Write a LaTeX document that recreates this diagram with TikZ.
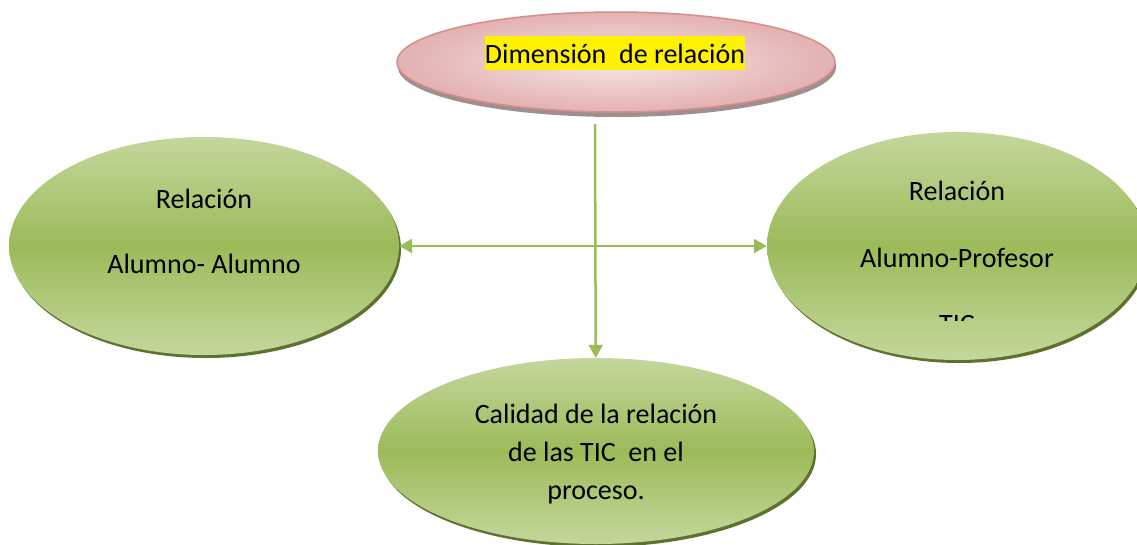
\documentclass[tikz,border=0pt]{standalone}
\usepackage{fontspec}
\setmainfont{Carlito}
\usetikzlibrary{shapes.geometric,arrows.meta,shadows}

\definecolor{olivegreen}{HTML}{9BBB59}
\definecolor{lightolive}{HTML}{C4D79C}
\definecolor{shadowolive}{HTML}{5E7230}
\definecolor{rosefill}{HTML}{E3B1B0}
\definecolor{roselight}{HTML}{F6E6E6}
\definecolor{roseline}{HTML}{D58E8C}
\definecolor{roseshadow}{HTML}{A08F8F}

\tikzset{
  >={Triangle[length=13pt,width=14pt]},
  greenbubble/.style={shape=ellipse,inner sep=0pt,
    top color=lightolive,bottom color=lightolive,middle color=olivegreen,
    drop shadow={shadow xshift=2pt,shadow yshift=-3pt,fill=shadowolive,opacity=1}},
  rosebubble/.style={shape=ellipse,inner sep=0pt,draw=roseline,line width=1.5pt,
    inner color=roselight,outer color=rosefill,
    drop shadow={shadow xshift=1pt,shadow yshift=-5pt,fill=roseshadow,opacity=1}},
  bubbletext/.style={anchor=base,font=\fontsize{28}{34}\selectfont},
  link/.style={draw=olivegreen,line width=2.5pt}
}

\begin{document}
\begin{tikzpicture}[x=1pt,y=-1pt]
            \useasboundingbox (0,0) rectangle (1137,544);

            \node[rosebubble,minimum width=438pt,minimum height=100pt]  (D) at (616,62) {};
            \node[greenbubble,minimum width=390pt,minimum height=218pt] (A) at (204,246) {};
            \node[greenbubble,minimum width=380pt,minimum height=228pt] (B) at (957,246) {};
            \node[greenbubble,minimum width=436pt,minimum height=186pt] (C) at (596,451) {};

            \node[bubbletext,fill=yellow,inner sep=0pt,text height=27pt,text depth=7pt] (Dtext) at (615,63) {Dimensión\ \ de relación};

            \node[bubbletext] (Atop) at (204,208) {Relación};
            \node[bubbletext] (Abot) at (204,273) {Alumno- Alumno};

            \node[bubbletext] (Btop) at (957,200) {Relación};
            \node[bubbletext] (Bmid) at (957,267) {Alumno-Profesor};
            \begin{scope}
              \clip (850,250) rectangle (1060,320);
              \node[bubbletext] (Bbot) at (957,333) {TIC};
            \end{scope}

            \node[bubbletext] (Ctop) at (596,423) {Calidad de la relación};
            \node[bubbletext] (Cmid) at (596,461) {de las TIC\ \ en el};
            \node[bubbletext] (Cbot) at (596,499) {proceso.};

            \coordinate (Dfoot) at (595,124);
            \draw[link,->] (Dfoot) -- (C);
            \draw[link,<->] (A) -- (B);
        \end{tikzpicture}
\end{document}
